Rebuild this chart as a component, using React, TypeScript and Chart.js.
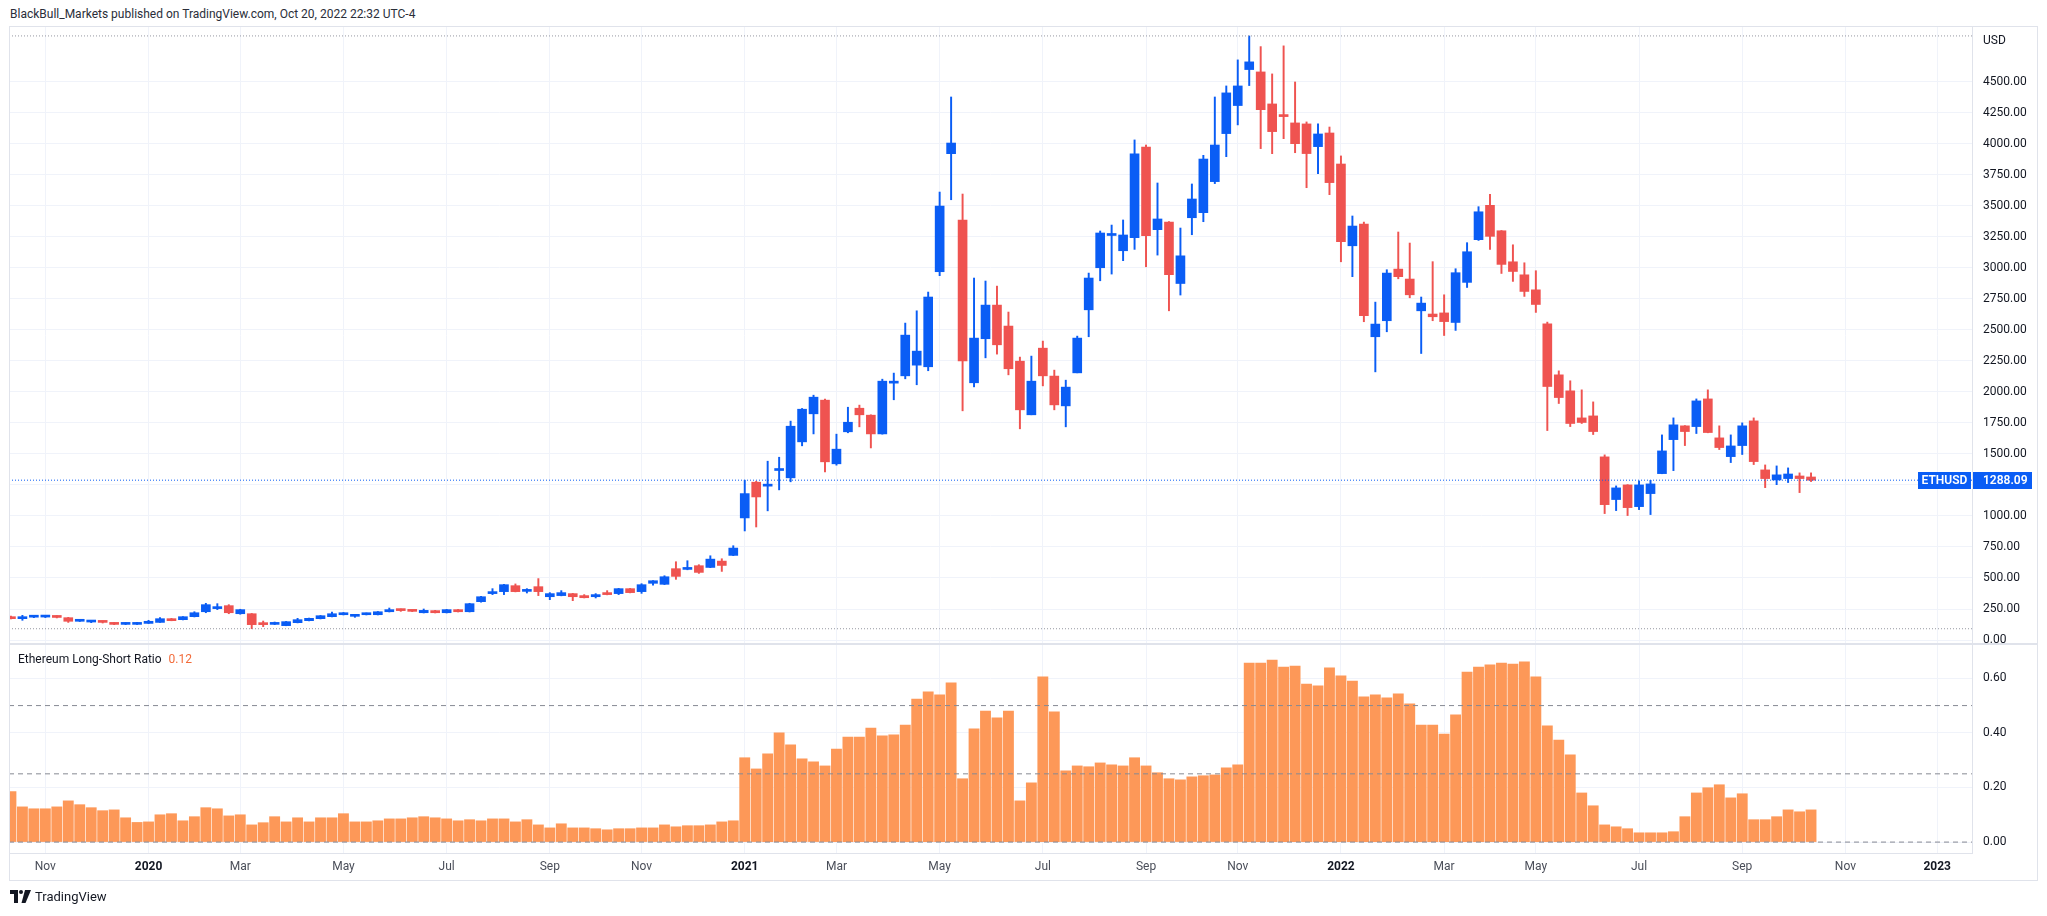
import React, { useEffect, useRef } from "react";
import { Chart, registerables } from "chart.js";
Chart.register(...registerables);

// Weekly ETHUSD candles, week 0 = 14 Oct 2019 ... week 157 = 17 Oct 2022
const opens = [188,172,184,185,191,180,151,145,151,134,126,126,134,142,172,164,188,228,253,277,212,212,132,126,116,140,156,172,188,204,191,204,204,228,245,239,220,237,220,245,228,309,374,390,438,392,430,349,358,374,358,349,374,374,414,390,457,449,575,569,599,585,636,682,984,1272,1240,1366,1307,1597,1823,1933,1420,1678,1868,1812,1661,2070,2129,2215,2202,2968,3919,3384,2073,2428,2699,2530,2247,1815,2352,2127,1887,2153,2661,3000,3260,3137,3242,3973,3307,3368,2873,3403,3444,3694,4081,4307,4597,4578,4320,4229,4167,4159,3976,4086,3836,3177,3352,2444,2573,2989,2909,2653,2627,2636,2559,2882,3226,3503,3298,3048,2943,2822,2548,2137,2008,1790,1806,1476,1132,1250,1075,1180,1341,1615,1726,1720,1943,1629,1478,1567,1766,1371,1290,1301,1322,1314];
const highs = [193,199,196,194,196,183,167,158,153,140,140,142,159,180,174,189,228,296,293,285,248,214,153,145,150,175,177,198,226,222,207,218,230,258,250,241,250,239,247,247,296,352,414,449,452,414,495,382,398,376,366,374,398,416,416,454,480,518,631,639,607,679,655,760,1288,1280,1441,1473,1764,1866,1973,1941,1659,1876,1893,1815,2102,2151,2554,2653,2804,3610,4376,3594,2917,2893,2852,2643,2280,2288,2409,2175,2094,2449,2957,3296,3344,3385,4030,3989,3683,3372,3320,3675,3906,4376,4465,4675,4868,4782,4562,4788,4497,4175,4159,4134,3901,3417,3368,2723,2984,3288,3199,2764,3049,2782,2992,3202,3492,3591,3300,3185,3040,2976,2562,2169,2089,2016,1919,1492,1242,1252,1282,1287,1653,1790,1728,1943,2016,1726,1653,1750,1790,1411,1403,1387,1347,1347];
const lows = [170,159,180,181,178,142,149,140,137,124,124,125,133,141,155,162,186,220,245,212,208,91,108,124,115,138,154,170,186,202,183,202,202,226,231,229,218,218,218,226,226,305,366,366,388,379,358,325,356,317,339,339,364,366,380,376,443,447,489,566,537,583,553,680,879,911,1041,1210,1275,1565,1661,1355,1409,1670,1718,1548,1659,1936,2105,2057,2170,2936,3548,1847,2040,2274,2304,2137,1702,1815,2048,1855,1718,2153,2444,2895,2949,3057,3148,3008,3102,2653,2780,3266,3371,3678,3895,4151,4468,3960,3919,4040,3927,3645,3758,3589,3048,2928,2565,2161,2484,2911,2758,2309,2573,2454,2495,2841,3220,3148,2954,2890,2769,2640,1688,1906,1720,1745,1656,1019,1043,1003,1051,1011,1340,1365,1567,1664,1670,1535,1430,1495,1414,1228,1252,1269,1188,1277];
const closes = [172,188,191,191,182,151,159,155,142,126,134,142,151,172,156,188,220,285,269,220,245,124,124,140,148,164,175,196,212,220,196,212,228,245,237,231,239,220,245,228,293,349,382,446,390,401,390,374,382,349,341,366,366,414,382,446,478,510,513,580,545,652,601,741,1180,1153,1250,1376,1723,1860,1957,1436,1538,1755,1815,1661,2086,2084,2457,2328,2764,3497,4005,2250,2433,2699,2379,2186,1855,2086,2129,1895,2038,2433,2917,3280,3264,3264,3917,3258,3393,2944,3096,3554,3876,3989,4409,4465,4659,4274,4097,4218,4000,3920,4078,3686,3210,3336,2613,2546,2957,2928,2782,2715,2605,2566,2960,3129,3451,3253,3027,2970,2809,2704,2043,1954,1745,1753,1680,1091,1226,1067,1250,1258,1524,1734,1680,1927,1672,1551,1564,1726,1438,1301,1331,1338,1301,1288.09];

// Ethereum Long-Short Ratio, one value per week
const ratio = [0.185,0.129,0.122,0.122,0.129,0.151,0.137,0.126,0.115,0.118,
0.089,0.072,0.074,0.100,0.104,0.078,0.093,0.126,0.122,0.096,
0.100,0.063,0.071,0.093,0.074,0.089,0.074,0.089,0.089,0.104,
0.074,0.074,0.078,0.085,0.085,0.089,0.093,0.089,0.085,0.078,
0.082,0.078,0.085,0.085,0.074,0.082,0.063,0.052,0.067,0.052,
0.052,0.049,0.045,0.049,0.049,0.052,0.052,0.063,0.056,0.060,
0.060,0.063,0.074,0.078,
0.309,0.268,0.323,0.400,0.356,0.305,0.294,0.279,0.341,0.385,
0.385,0.418,0.389,0.393,0.429,0.524,0.550,0.539,0.583,0.232,
0.415,0.480,0.455,0.480,0.151,0.217,0.605,0.477,0.261,0.279,
0.276,0.290,0.283,0.279,0.309,0.279,0.254,0.232,0.228,0.239,
0.243,0.246,0.272,0.283,0.656,0.656,0.667,0.641,0.645,0.579,
0.572,0.638,0.609,0.590,0.532,0.539,0.528,0.543,0.506,0.429,
0.429,0.396,0.466,0.623,0.641,0.649,0.656,0.652,0.660,0.605,
0.426,0.374,0.320,0.180,0.133,0.063,0.056,0.049,0.034,0.034,
0.034,0.038,0.093,0.180,0.199,0.210,0.162,0.177,0.082,0.082,
0.093,0.118,0.111,0.118];

const timeTickWeeks = [3,12,20,29,38,47,55,64,72,81,90,99,107,116,125,133,142,151,160,168];
const timeTickLabels = ["Nov","2020","Mar","May","Jul","Sep","Nov","2021","Mar","May","Jul","Sep","Nov","2022","Mar","May","Jul","Sep","Nov","2023"];
const priceTicks = [0,250,500,750,1000,1250,1500,1750,2000,2250,2500,2750,3000,3250,3500,3750,4000,4250,4500];
const ratioTicks = [0,0.2,0.4,0.6];
const ratioLevels = [0,0.25,0.5];

const SYMBOL = "ETHUSD";
const UP = "#0a5df5";
const DOWN = "#ef5350";
const GRID = "#f0f3fa";
const FRAME = "#e0e3eb";
const FONT = "Roboto, 'DejaVu Sans', sans-serif";

const X_MIN = -0.17;
const X_MAX = 171.04;

const W = 2047;

const noPad = (s: any) => {
  s.paddingLeft = 0;
  s.paddingRight = 0;
  s.paddingTop = 0;
  s.paddingBottom = 0;
};

export default function App() {
  const priceRef = useRef<HTMLCanvasElement>(null);
  const ratioRef = useRef<HTMLCanvasElement>(null);

  useEffect(() => {
    const n = closes.length;
    const colors = closes.map((c, i) => (c >= opens[i] ? UP : DOWN));
    const maxHigh = Math.max(...highs);
    const minLow = Math.min(...lows);
    const lastClose = closes[n - 1];

    const hline = (y: number, color: string, dash: number[]) => ({
      type: "line" as const,
      data: [{ x: X_MIN, y }, { x: X_MAX, y }],
      borderColor: color,
      borderWidth: 1,
      borderDash: dash,
      pointRadius: 0,
      order: 0,
    });

    const lastPricePlugin = {
      id: "lastPrice",
      afterDraw(chart: any) {
        const ctx = chart.ctx;
        const y = Math.round(chart.scales.y.getPixelForValue(lastClose));
        const r = chart.chartArea.right;
        ctx.save();
        ctx.fillStyle = "#0a5df5";
        ctx.fillRect(r - 54, y - 8, 53, 17);
        ctx.fillRect(r + 1, y - 8, 59, 17);
        ctx.fillStyle = "#ffffff";
        ctx.font = `600 12px ${FONT}`;
        ctx.textBaseline = "middle";
        ctx.textAlign = "center";
        ctx.fillText(SYMBOL, r - 27.5, y + 0.5);
        ctx.textAlign = "left";
        ctx.fillText(lastClose.toFixed(2), r + 11, y + 0.5);
        ctx.restore();
      },
    };

    const priceChart = new Chart(priceRef.current!, {
      type: "bar",
      data: {
        datasets: [
          hline(maxHigh, "#9598a1", [1, 2]) as any,
          hline(minLow, "#9598a1", [1, 2]) as any,
          hline(lastClose, "#0a5df5", [1, 2]) as any,
          {
            type: "bar",
            data: closes.map((c, i) => ({ x: i, y: [opens[i], c] })),
            backgroundColor: colors,
            barThickness: 9,
            minBarLength: 2,
            grouped: false,
            order: 1,
          } as any,
          {
            type: "bar",
            data: closes.map((c, i) => ({ x: i, y: [lows[i], highs[i]] })),
            backgroundColor: colors,
            barThickness: 1.3,
            grouped: false,
            order: 2,
          } as any,
        ],
      },
      options: {
        animation: false,
        responsive: false,
        devicePixelRatio: 1,
        layout: { padding: { left: 9, right: 10, top: 27, bottom: 0 } },
        plugins: { legend: { display: false }, tooltip: { enabled: false } },
        scales: {
          x: {
            type: "linear",
            offset: false,
            min: X_MIN,
            max: X_MAX,
            afterBuildTicks: (s: any) => {
              s.ticks = timeTickWeeks.map((v) => ({ value: v }));
            },
            afterFit: (s: any) => {
              s.height = 0;
              noPad(s);
            },
            ticks: { display: false },
            grid: { color: GRID, drawTicks: false, offset: false },
            border: { display: false },
          },
          y: {
            position: "right",
            min: -32,
            max: 4940,
            afterBuildTicks: (s: any) => {
              s.ticks = priceTicks.map((v) => ({ value: v }));
            },
            afterFit: (s: any) => {
              s.width = 65;
              noPad(s);
            },
            ticks: {
              callback: (v: any) => Number(v).toFixed(2),
              color: "#131722",
              font: { family: FONT, size: 12 },
              padding: 11,
            },
            grid: { color: GRID, drawTicks: false },
            border: { display: true, color: FRAME },
          },
        },
      },
      plugins: [lastPricePlugin],
    });

    const ratioChart = new Chart(ratioRef.current!, {
      type: "bar",
      data: {
        datasets: [
          ...ratioLevels.map((lv) => hline(lv, "#868993", [5, 4]) as any),
          {
            type: "bar",
            data: ratio.map((v, i) => ({ x: i, y: v })),
            backgroundColor: "#fd9858",
            barThickness: 10.2,
            grouped: false,
            order: 1,
          } as any,
        ],
      },
      options: {
        animation: false,
        responsive: false,
        devicePixelRatio: 1,
        layout: { padding: { left: 9, right: 10, top: 0, bottom: 36 } },
        plugins: { legend: { display: false }, tooltip: { enabled: false } },
        scales: {
          x: {
            type: "linear",
            offset: false,
            min: X_MIN,
            max: X_MAX,
            afterBuildTicks: (s: any) => {
              s.ticks = timeTickWeeks.map((v) => ({ value: v }));
            },
            afterFit: (s: any) => {
              s.height = 27;
              noPad(s);
            },
            ticks: {
              callback: (v: any) => timeTickLabels[timeTickWeeks.indexOf(Number(v))],
              color: (c: any) => (/^\d+$/.test(String(c.tick?.label)) ? "#131722" : "#4a4e59"),
              font: (c: any) => ({
                family: FONT,
                size: 12,
                weight: /^\d+$/.test(String(c.tick?.label)) ? "bold" : "normal",
              }),
              padding: 7,
              maxRotation: 0,
              autoSkip: false,
            },
            grid: { color: GRID, drawTicks: false, offset: false },
            border: { display: true, color: FRAME },
          },
          y: {
            position: "right",
            min: -0.04,
            max: 0.7256,
            afterBuildTicks: (s: any) => {
              s.ticks = ratioTicks.map((v) => ({ value: v }));
            },
            afterFit: (s: any) => {
              s.width = 65;
              noPad(s);
            },
            ticks: {
              callback: (v: any) => Number(v).toFixed(2),
              color: "#131722",
              font: { family: FONT, size: 12 },
              padding: 11,
            },
            grid: { color: GRID, drawTicks: false },
            border: { display: true, color: FRAME },
          },
        },
      },
    });

    return () => {
      priceChart.destroy();
      ratioChart.destroy();
    };
  }, []);

  const lastRatio = ratio[ratio.length - 1].toFixed(2);

  return (
    <div
      style={{
        position: "absolute",
        left: 0,
        top: 0,
        width: W,
        height: 916,
        background: "#ffffff",
        fontFamily: FONT,
        overflow: "hidden",
      }}
    >
      <div style={{ position: "absolute", left: 10, top: 7, fontSize: 12, color: "#2a2e39", whiteSpace: "nowrap" }}>
        BlackBull_Markets published on TradingView.com, Oct 20, 2022 22:32 UTC-4
      </div>
      <canvas ref={priceRef} width={W} height={644} style={{ position: "absolute", left: 0, top: 0 }} />
      <canvas ref={ratioRef} width={W} height={272} style={{ position: "absolute", left: 0, top: 644 }} />
      <div
        style={{
          position: "absolute",
          left: 9,
          top: 26,
          width: 2029,
          height: 855,
          border: `1px solid ${FRAME}`,
          boxSizing: "border-box",
          pointerEvents: "none",
        }}
      />
      <div style={{ position: "absolute", left: 9, top: 643, width: 2029, height: 2, background: FRAME }} />
      <div style={{ position: "absolute", left: 1983, top: 33, fontSize: 12, color: "#131722" }}>USD</div>
      <div style={{ position: "absolute", left: 18, top: 652, fontSize: 12, color: "#131722", whiteSpace: "nowrap" }}>
        Ethereum Long-Short Ratio
        <span style={{ color: "#f26b3a", marginLeft: 7 }}>{lastRatio}</span>
      </div>
      <div style={{ position: "absolute", left: 10, top: 889, display: "flex", alignItems: "center" }}>
        <svg width="21" height="13" viewBox="0 0 21 13">
          <path d="M0 0 H8 V13 H4 V4 H0 Z" fill="#131722" />
          <circle cx="11" cy="2" r="2" fill="#131722" />
          <path d="M15 0 H21 L15.5 13 H11.5 Z" fill="#131722" />
        </svg>
        <span style={{ marginLeft: 4, fontSize: 13, color: "#131722" }}>TradingView</span>
      </div>
    </div>
  );
}
